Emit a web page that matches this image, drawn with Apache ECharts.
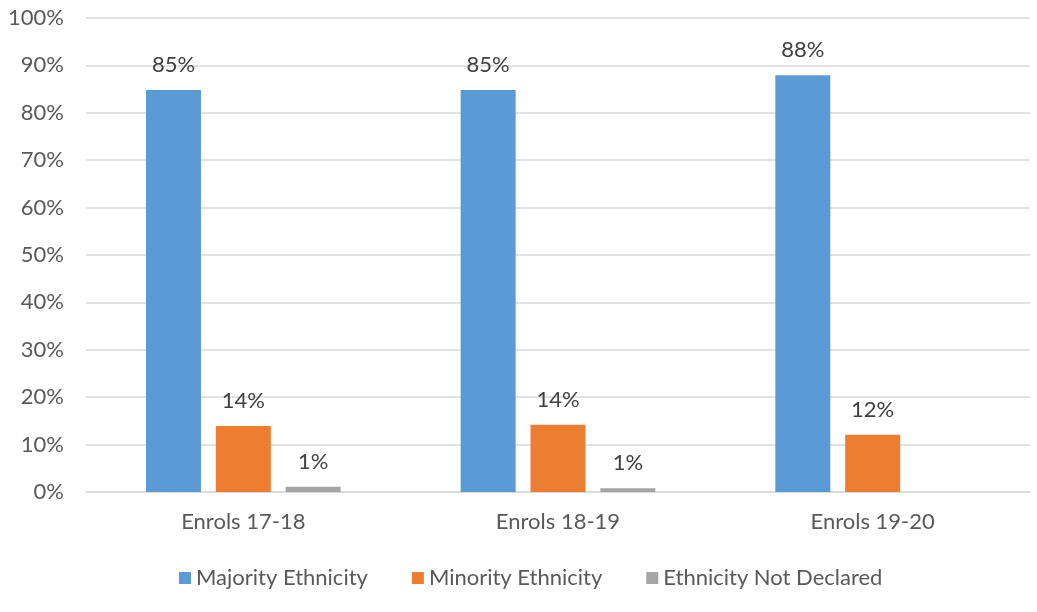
<!DOCTYPE html>
<html><head><meta charset="utf-8">
<script src="https://cdn.jsdelivr.net/npm/echarts@6/dist/echarts.min.js"></script>
<style>html,body{margin:0;padding:0;background:#fff}#c{width:1037px;height:612px}</style>
</head><body><div id="c"></div>
<script>
var categories = ['Enrols 17-18', 'Enrols 18-19', 'Enrols 19-20'];
var seriesNames = ['Majority Ethnicity', 'Minority Ethnicity', 'Ethnicity Not Declared'];
var majority = [84.8, 84.8, 87.9];
var minority = [13.9, 14.2, 12.1];
var notDeclared = [1.1, 0.8, null];
var colors = ['#5B9BD5', '#ED7D31', '#A5A5A5'];
var FONT = 'Lato, "Open Sans", sans-serif';
var FS = 22;

var chart = echarts.init(document.getElementById('c'));
function mk(name, data, color) {
  return {
    name: name, type: 'bar', data: data, barWidth: 55, barGap: '27%',
    itemStyle: { color: color },
    label: { show: true, position: 'top', distance: 14, color: '#404040', fontSize: FS, fontFamily: FONT,
      formatter: function (p) { return p.value == null ? '' : Math.round(p.value) + '%'; } }
  };
}
chart.setOption({
  animation: false,
  textStyle: { fontFamily: FONT },
  grid: { left: 86, right: 7, top: 18, bottom: 120, containLabel: false },
  legend: {
    bottom: 18, left: 174, itemWidth: 12, itemHeight: 12, itemGap: 44, itemTextGap: 7, icon: 'rect',
    textStyle: { color: '#595959', fontSize: FS, fontFamily: FONT },
    data: seriesNames
  },
  xAxis: {
    type: 'category', data: categories,
    axisLine: { lineStyle: { color: '#D9D9D9', width: 1.5 } },
    axisTick: { show: false },
    axisLabel: { color: '#595959', fontSize: FS, margin: 19, fontFamily: FONT }
  },
  yAxis: {
    type: 'value', min: 0, max: 100, interval: 10,
    axisLine: { show: false }, axisTick: { show: false },
    splitLine: { lineStyle: { color: '#D9D9D9', width: 1.5 } },
    axisLabel: { color: '#595959', fontSize: FS, margin: 22, fontFamily: FONT, formatter: '{value}%' }
  },
  series: [mk(seriesNames[0], majority, colors[0]), mk(seriesNames[1], minority, colors[1]), mk(seriesNames[2], notDeclared, colors[2])]
});
</script></body></html>
